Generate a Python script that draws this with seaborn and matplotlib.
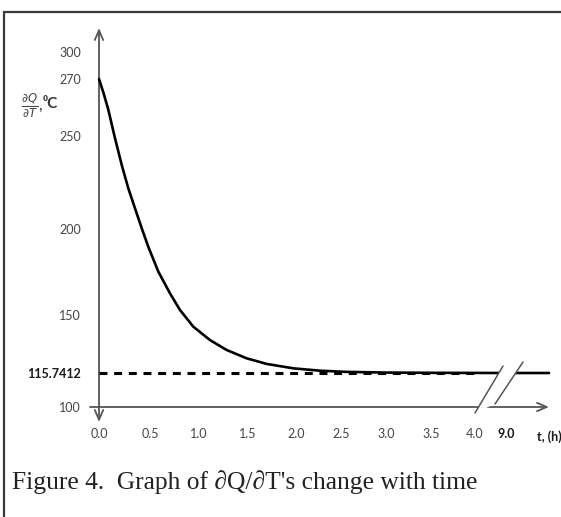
import numpy as np
import pandas as pd
import matplotlib
matplotlib.use("Agg")
import matplotlib.pyplot as plt
import seaborn as sns
from matplotlib.lines import Line2D
from matplotlib.patches import Polygon
from matplotlib.transforms import ScaledTranslation

# ---- values ----
t_hours = [0.0, 0.045, 0.09, 0.157, 0.223, 0.287, 0.353, 0.419, 0.483, 0.585, 0.704,
           0.806, 0.942, 1.112, 1.283, 1.487, 1.695, 1.972, 2.267, 2.563, 3.0,
           3.5, 4.0, 9.0, 9.85]
dq_dt = [270, 265.0, 259.4, 248.8, 234.4, 221.9, 211.1, 200.4, 189.7, 175.2, 162.6,
         152.9, 143.1, 135.2, 129.3, 124.4, 121.1, 118.5, 117.1, 116.4, 116.0,
         115.85, 115.78, 115.7412, 115.7412]
asymptote = 115.7412
asym_t = [0.0, 4.0]

y_ticks = [100, 150, 200, 250, 270, 300]
x_ticks = [0.0, 0.5, 1.0, 1.5, 2.0, 2.5, 3.0, 3.5, 4.0, 9.0]
x_ticklabels = ['0.0', '0.5', '1.0', '1.5', '2.0', '2.5', '3.0', '3.5', '4.0', '9.0']

caption = "Figure 4.  Graph of \u2202Q/\u2202T's change with time"

# the hand drawn axes are not linear (and the t axis is broken after 4.0),
# so map values onto pixel rows/columns of the original drawing
y_knots = [100, 115.7412, 150, 200, 250, 270, 300]
y_rows = np.array([407, 373, 315, 229, 136, 79, 52])
x_knots = [0.0, 0.5, 1.0, 1.5, 2.0, 2.5, 3.0, 3.5, 4.0, 9.0, 9.85]
x_cols = [99, 150, 199, 248, 296, 341, 386, 431, 475, 515, 549]

W, H = 561, 517

sns.set_style("white")
plt.rcParams['font.family'] = ['Lato', 'DejaVu Sans']

fig = plt.figure(figsize=(W / 100, H / 100), dpi=100)
ax = fig.add_axes([x_cols[0] / W, (H - y_rows[0]) / H,
                   (x_cols[-1] - x_cols[0]) / W, (y_rows[0] - y_rows[-1]) / H])
ax.patch.set_alpha(0)

ax.set_xscale('function', functions=(lambda v: np.interp(v, x_knots, x_cols),
                                     lambda p: np.interp(p, x_cols, x_knots)))
ax.set_yscale('function', functions=(lambda v: np.interp(v, y_knots, -y_rows),
                                     lambda p: np.interp(p, -y_rows, y_knots)))
ax.set_xlim(x_knots[0], x_knots[-1])
ax.set_ylim(y_knots[0], y_knots[-1])

df = pd.DataFrame({'t': t_hours, 'q': dq_dt})
sns.lineplot(data=df, x='t', y='q', ax=ax, color='black', lw=1.9,
             sort=False, estimator=None, clip_on=False, zorder=4)
ax.plot(asym_t, [asymptote] * len(asym_t), color='black', lw=2.2,
        dashes=(2.6, 2.2), zorder=3)

for s in ax.spines.values():
    s.set_visible(False)

ax.set_xticks(x_ticks)
ax.set_xticklabels(x_ticklabels)
ax.set_yticks(y_ticks + [asymptote])
ax.set_yticklabels([str(v) for v in y_ticks] + [f"{asymptote:.4f}"])
ax.tick_params(axis='x', direction='out', length=7, width=1.1, color='#555555',
               pad=8, labelsize=9, labelcolor='#444444')
ax.tick_params(axis='y', direction='out', length=5, width=1.1, color='#555555',
               pad=8, labelsize=9, labelcolor='#444444')
ax.set_xlabel('')
ax.set_ylabel('')

yl = ax.get_yticklabels()[-1]
yl.set_fontweight('bold')
yl.set_color('#1a1a1a')
xl = ax.get_xticklabels()[-1]
xl.set_fontweight('bold')
xl.set_color('#1a1a1a')
xl.set_transform(xl.get_transform() + ScaledTranslation(-9 / 100, 0, fig.dpi_scale_trans))


def fx(px):
    return (px - x_cols[0]) / (x_cols[-1] - x_cols[0])


def fy(py):
    return (y_rows[0] - py) / (y_rows[0] - y_rows[-1])


axis_col = '#555555'
# vertical axis with arrows at both ends
ax.annotate('', xy=(0, fy(28)), xytext=(0, fy(422)), xycoords='axes fraction',
            arrowprops=dict(arrowstyle='<->,head_length=0.7,head_width=0.3',
                            color=axis_col, lw=1.3, shrinkA=0, shrinkB=0), zorder=2)
# horizontal axis
ax.annotate('', xy=(fx(549), 0), xytext=(fx(90), 0), xycoords='axes fraction',
            arrowprops=dict(arrowstyle='->,head_length=0.7,head_width=0.3',
                            color=axis_col, lw=1.3, shrinkA=0, shrinkB=0), zorder=2)

# axis break "//"
gap = Polygon([(fx(475), fy(413)), (fx(503), fy(366)), (fx(523), fy(362)), (fx(495), fy(404))],
              closed=True, transform=ax.transAxes, facecolor='white', edgecolor='none',
              clip_on=False, zorder=6)
ax.add_patch(gap)
for (x0, y0, x1, y1) in [(475, 413, 503, 366), (495, 404, 523, 362)]:
    ax.add_line(Line2D([fx(x0), fx(x1)], [fy(y0), fy(y1)], transform=ax.transAxes,
                       color='#555555', lw=1.1, clip_on=False, zorder=7))

# axis titles
fig.text(537 / W, 1 - 437 / H, 't, (h)', fontsize=9, fontweight='bold',
         color='#1a1a1a', ha='left', va='center')
fig.text(32 / W, 1 - 106 / H, r'$\frac{\partial Q}{\partial T}$,', fontsize=12,
         color='#444444', ha='center', va='center')
fig.text(43 / W, 1 - 104 / H, '\u2070C', fontsize=11, fontweight='bold',
         color='#333333', ha='left', va='center')

# frame of the original figure box
fig.add_artist(Line2D([4 / W, 4 / W], [0, 1 - 12 / H], transform=fig.transFigure,
                      color='#3a3a3a', lw=1.6))
fig.add_artist(Line2D([4 / W, 1], [1 - 12 / H, 1 - 12 / H], transform=fig.transFigure,
                      color='#3a3a3a', lw=1.6))

fig.text(12 / W, 1 - 489 / H, caption, fontsize=18.4, color='#222222',
         family=['Liberation Serif', 'DejaVu Serif'], ha='left', va='baseline')

fig.savefig('out.png', dpi=100, facecolor='white')
